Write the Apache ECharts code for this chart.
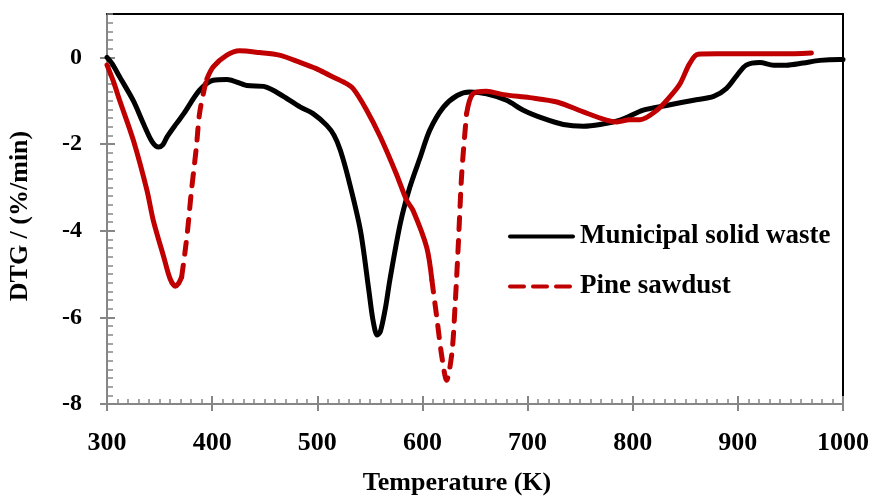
<!DOCTYPE html>
<html><head><meta charset="utf-8">
<script src="https://cdn.jsdelivr.net/npm/echarts@6/dist/echarts.min.js"></script>
<style>html,body{margin:0;padding:0;background:#fff}#c{width:870px;height:500px}</style>
</head><body><div id="c"></div>
<script>
// Municipal solid waste: temperature (K) and DTG (%/min)
const mswT = [300,305,312,325,335,343,349,353,357,366,373,388,401,414,433,449,458,471,484,496,509,516,522,530,541,549,553,557,560,565,569,579,588,598,607,620,633,645,661,680,696,715,734,753,769,788,810,832,858,877,889,899,908,921,934,946,962,978,997,1000];
const mswV = [0,-0.15,-0.45,-1.0,-1.55,-1.95,-2.07,-2.02,-1.84,-1.53,-1.30,-0.76,-0.53,-0.51,-0.65,-0.67,-0.76,-0.95,-1.15,-1.30,-1.57,-1.80,-2.15,-2.84,-3.99,-5.37,-6.07,-6.41,-6.33,-5.76,-5.14,-3.83,-3.00,-2.30,-1.68,-1.15,-0.88,-0.80,-0.84,-0.99,-1.22,-1.41,-1.55,-1.59,-1.55,-1.45,-1.22,-1.11,-0.99,-0.90,-0.72,-0.42,-0.18,-0.12,-0.18,-0.18,-0.13,-0.07,-0.05,-0.05];
// Pine sawdust
const pineT = [300,306,312,325,338,344,354,360,365,368,371,374,377,380,385,388,393,395,401,414,426,445,464,483,499,512,525,534,547,560,575,585,591,604,609,614,618,623,628,631,634,637,639,642,648,661,677,702,728,753,775,785,797,807,823,835,845,854,862,880,912,943,970];
const pineV = [-0.18,-0.55,-0.99,-1.91,-3.07,-3.76,-4.61,-5.11,-5.28,-5.22,-5.07,-4.53,-3.91,-3.15,-2.07,-1.30,-0.68,-0.50,-0.22,0.05,0.15,0.11,0.05,-0.11,-0.26,-0.42,-0.57,-0.72,-1.22,-1.84,-2.68,-3.30,-3.53,-4.38,-5.14,-6.07,-6.83,-7.45,-6.83,-5.76,-4.38,-2.84,-2.15,-1.30,-0.84,-0.78,-0.86,-0.93,-1.03,-1.26,-1.45,-1.49,-1.44,-1.44,-1.22,-0.92,-0.61,-0.15,0.07,0.08,0.08,0.08,0.10];
// Temperature spans where the pine curve is drawn dashed (steep parts)
const pineDashedSpans = [[371,395],[609,642]];
const xTicks = [300,400,500,600,700,800,900,1000];
const yTicks = [-8,-6,-4,-2,0];

const FONT = '"Liberation Serif","Times New Roman",serif';
const GRAY = '#868686';
const RED = '#C00000';

const msw = mswT.map((t,i)=>[t,mswV[i]]);
const inside = t => pineDashedSpans.some(([a,b]) => t>a && t<b);
const onSpan = t => pineDashedSpans.some(([a,b]) => t>=a && t<=b);
const pineSolid = pineT.map((t,i)=> inside(t) ? [t,'-'] : [t,pineV[i]]);
const pineDashed = pineT.map((t,i)=> onSpan(t) ? [t,pineV[i]] : [t,'-']);

const chart = echarts.init(document.getElementById('c'), null, {renderer:'canvas'});
const xBase = {type:'value', min:300, max:1000, splitLine:{show:false}};
const yBase = {type:'value', min:-8, max:1, splitLine:{show:false}};
chart.setOption({
  animation:false,
  backgroundColor:'#fff',
  grid:{left:107,right:27,top:14,bottom:96,containLabel:false,outerBoundsMode:'none'},
  legend:{
    orient:'vertical', left:503, top:218, itemWidth:67, itemHeight:5, itemGap:23,
    data:[
      {name:'Municipal solid waste', icon:'path://M2,0H65A2,2 0 0 1 65,4H2A2,2 0 0 1 2,0Z'},
      {name:'Pine sawdust', icon:'path://M2,0H16A2,2 0 0 1 16,4H2A2,2 0 0 1 2,0Z M25,0H39A2,2 0 0 1 39,4H25A2,2 0 0 1 25,0Z M48,0H62A2,2 0 0 1 62,4H48A2,2 0 0 1 48,0Z M67,0H67V4H67Z'}
    ],
    textStyle:{fontFamily:FONT,fontSize:27,fontWeight:'bold',color:'#000',lineHeight:27}
  },
  xAxis:[
    Object.assign({}, xBase, {position:'bottom', interval:100,
      axisLine:{show:true,onZero:false,lineStyle:{color:GRAY,width:2}},
      axisTick:{show:true,inside:false,length:7,lineStyle:{color:GRAY,width:2}},
      axisLabel:{show:true,margin:26,fontFamily:FONT,fontSize:26,fontWeight:'bold',color:'#000',customValues:xTicks,formatter:v=>String(v)},
      name:'Temperature (K)', nameLocation:'middle', nameGap:66,
      nameTextStyle:{fontFamily:FONT,fontSize:26,fontWeight:'bold',color:'#000',padding:[0,36,0,0]}}),
    Object.assign({}, xBase, {position:'bottom', interval:10,
      axisLine:{show:false,onZero:false}, axisLabel:{show:false},
      axisTick:{show:true,inside:true,length:5,lineStyle:{color:GRAY,width:1.5}}}),
    Object.assign({}, xBase, {position:'bottom', interval:100,
      axisLine:{show:false,onZero:false}, axisLabel:{show:false},
      axisTick:{show:true,inside:true,length:8,lineStyle:{color:GRAY,width:2}}}),
    Object.assign({}, xBase, {position:'top',
      axisLine:{show:true,onZero:false,lineStyle:{color:'#000',width:2}},
      axisTick:{show:false}, axisLabel:{show:false}})
  ],
  yAxis:[
    Object.assign({}, yBase, {position:'left', interval:2,
      axisLine:{show:true,onZero:false,lineStyle:{color:GRAY,width:2}},
      axisTick:{show:true,inside:false,length:7,lineStyle:{color:GRAY,width:2},customValues:yTicks},
      axisLabel:{show:true,margin:25,fontFamily:FONT,fontSize:24,fontWeight:'bold',color:'#000',customValues:yTicks},
      name:'DTG / (%/min)', nameLocation:'middle', nameGap:74,
      nameTextStyle:{fontFamily:FONT,fontSize:26,fontWeight:'bold',color:'#000',padding:[0,14,0,0]}}),
    Object.assign({}, yBase, {position:'left', interval:0.2,
      axisLine:{show:false,onZero:false}, axisLabel:{show:false},
      axisTick:{show:true,inside:true,length:6,lineStyle:{color:GRAY,width:1.5}}}),
    Object.assign({}, yBase, {position:'left', interval:2,
      axisLine:{show:false,onZero:false}, axisLabel:{show:false},
      axisTick:{show:true,inside:true,length:8,lineStyle:{color:GRAY,width:2},customValues:yTicks}}),
    Object.assign({}, yBase, {position:'right',
      axisLine:{show:true,onZero:false,lineStyle:{color:'#000',width:2}},
      axisTick:{show:false}, axisLabel:{show:false}})
  ],
  series:[
    {name:'Municipal solid waste', type:'line', data:msw, symbol:'none', showSymbol:false, smooth:0.3,
     lineStyle:{color:'#000',width:5,cap:'round',join:'round'}, itemStyle:{color:'#000'}},
    {name:'Pine sawdust (solid part)', type:'line', data:pineSolid, symbol:'none', showSymbol:false, smooth:0.3,
     connectNulls:false, lineStyle:{color:RED,width:5,cap:'round',join:'round'}, itemStyle:{color:RED}},
    {name:'Pine sawdust', type:'line', data:pineDashed, symbol:'none', showSymbol:false, smooth:0.3,
     connectNulls:false, lineStyle:{color:RED,width:5,type:[12,11],cap:'round',join:'round'}, itemStyle:{color:RED}}
  ]
});
</script></body></html>
